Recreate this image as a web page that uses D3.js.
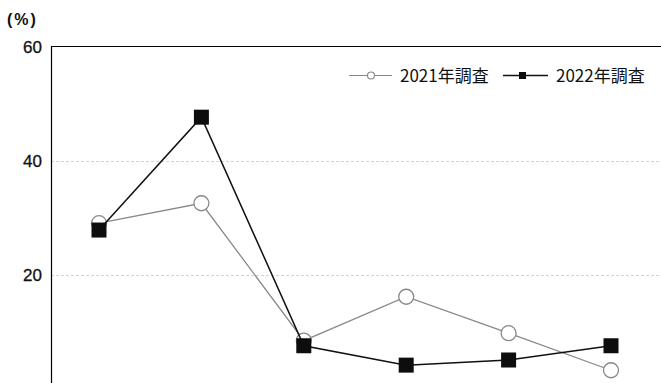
<!DOCTYPE html>
<html>
<head>
<meta charset="utf-8">
<script src="https://cdn.jsdelivr.net/npm/d3@7"></script>
<style>
  body { margin: 0; background: #fff; }
  svg text { font-family: "Liberation Sans", Arial, "Noto Sans CJK JP", sans-serif; fill: #111; }
</style>
</head>
<body>
<svg id="chart" width="661" height="383"></svg>
<script>
// categories (no labels shown in the picture)
const categories = ["c1", "c2", "c3", "c4", "c5", "c6"];
const series2021 = [29.0, 32.5, 8.4, 16.1, 9.7, 3.2];
const series2022 = [27.8, 47.6, 7.5, 4.1, 5.0, 7.5];
const yTicks = [20, 40, 60];

const svg = d3.select("#chart");
const plotLeft = 51, plotTop = 46.5;

let x = d3.scalePoint().domain(categories).range([99, 611]);
let y = d3.scaleLinear().domain([0, 60]).range([388.5, plotTop]);

// dashed gridlines
svg.append("g")
  .selectAll("line")
  .data(yTicks.filter(d => d < 60))
  .enter()
  .append("line")
  .attr("x1", plotLeft).attr("x2", 661)
  .attr("y1", d => Math.round(y(d)) + 0.5).attr("y2", d => Math.round(y(d)) + 0.5)
  .attr("stroke", "#d6d6bc")
  .attr("stroke-width", 1)
  .attr("stroke-dasharray", "3,2");

// frame: left and top
svg.append("line").attr("x1", plotLeft + 0.5).attr("x2", plotLeft + 0.5).attr("y1", plotTop).attr("y2", 383)
  .attr("stroke", "#000").attr("stroke-width", 1.2);
svg.append("line").attr("x1", plotLeft).attr("x2", 661).attr("y1", plotTop).attr("y2", plotTop)
  .attr("stroke", "#000").attr("stroke-width", 1.2);

// y tick labels
svg.append("g")
  .selectAll("text")
  .data(yTicks)
  .enter()
  .append("text")
  .attr("x", 42).attr("y", d => y(d) + 6)
  .attr("text-anchor", "end")
  .style("font-size", "17px")
  .style("stroke", "#111").style("stroke-width", 0.3)
  .text(d => d);

svg.append("text").attr("x", 7).attr("y", 25)
  .style("font-size", "16px").style("font-weight", "bold")
  .style("letter-spacing", "2px")
  .text("(%)");

let line = d3.line().x((d, i) => x(categories[i])).y(d => y(d));

// 2021
svg.append("path").datum(series2021).attr("d", line)
  .attr("fill", "none").attr("stroke", "#888").attr("stroke-width", 1.3);
svg.append("g").selectAll("circle")
  .data(series2021).enter().append("circle")
  .attr("cx", (d, i) => x(categories[i])).attr("cy", d => y(d))
  .attr("r", 7.5)
  .attr("fill", "#fff").attr("stroke", "#888").attr("stroke-width", 1.3);

// 2022
svg.append("path").datum(series2022).attr("d", line)
  .attr("fill", "none").attr("stroke", "#111").attr("stroke-width", 1.5);
svg.append("g").selectAll("rect")
  .data(series2022).enter().append("rect")
  .attr("x", (d, i) => x(categories[i]) - 7.5).attr("y", d => y(d) - 7.5)
  .attr("width", 15).attr("height", 15)
  .attr("fill", "#0d0d0d");

// legend
let lg = svg.append("g");
lg.append("line").attr("x1", 349).attr("x2", 392).attr("y1", 75.5).attr("y2", 75.5)
  .attr("stroke", "#888").attr("stroke-width", 1.2);
lg.append("circle").attr("cx", 371).attr("cy", 75.5).attr("r", 3.5)
  .attr("fill", "#fff").attr("stroke", "#888").attr("stroke-width", 1.2);
lg.append("text").attr("x", 400).attr("y", 82)
  .style("font-size", "17px").style("font-family", "'Noto Sans CJK JP', sans-serif")
  .text("2021年調査");
lg.append("line").attr("x1", 503).attr("x2", 548).attr("y1", 75.5).attr("y2", 75.5)
  .attr("stroke", "#111").attr("stroke-width", 1.5);
lg.append("rect").attr("x", 519).attr("y", 72).attr("width", 7).attr("height", 7)
  .attr("fill", "#0d0d0d");
lg.append("text").attr("x", 556).attr("y", 82)
  .style("font-size", "17px").style("font-family", "'Noto Sans CJK JP', sans-serif")
  .text("2022年調査");
</script>
</body>
</html>
